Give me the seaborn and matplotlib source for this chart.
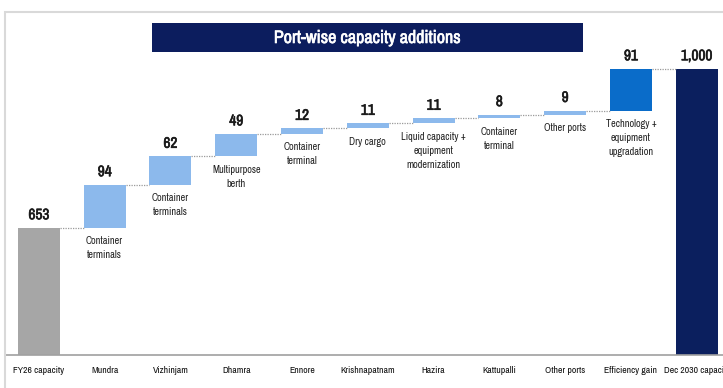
import matplotlib
matplotlib.use("Agg")
import matplotlib.pyplot as plt
import seaborn as sns
import numpy as np
import pandas as pd
from matplotlib.patches import Rectangle
from matplotlib import font_manager
import matplotlib.patheffects as pe

categories = ["FY26 capacity", "Mundra", "Vizhinjam", "Dhamra", "Ennore", "Krishnapatnam",
              "Hazira", "Kattupalli", "Other ports", "Efficiency gain", "Dec 2030 capacity"]
values = [653, 94, 62, 49, 12, 11, 11, 8, 9, 91, 1000]
value_labels = ["653", "94", "62", "49", "12", "11", "11", "8", "9", "91", "1,000"]
notes = ["", "Container\nterminals", "Container\nterminals", "Multipurpose\nberth",
         "Container\nterminal", "Dry cargo", "Liquid capacity +\nequipment\nmodernization",
         "Container\nterminal", "Other ports", "Technology +\nequipment\nupgradation", ""]
kinds = ["total", "add", "add", "add", "add", "add", "add", "add", "add", "eff", "total_end"]
title = "Port-wise capacity additions"

color_map = {"total": "#a6a6a6", "add": "#8cb9ec", "eff": "#0a6cc9", "total_end": "#0b1f5e"}

# waterfall bottoms / tops
bottoms = []
tops = []
running = 0
for v, k in zip(values, kinds):
    if k in ("total", "total_end"):
        bottoms.append(0)
        tops.append(v)
        running = v
    else:
        bottoms.append(running)
        running += v
        tops.append(running)

df = pd.DataFrame({"cat": categories, "height": values, "bottom": bottoms})

sns.set_theme(style="white")

entries = font_manager.fontManager.ttflist
names = sorted({f.name for f in entries})
narrow = [n for n in names if "Narrow" in n or "Condensed" in n]
pref = [n for n in narrow if n.startswith("Liberation")] + narrow
fam = pref[0] if pref else "Liberation Sans"
scale = 1.0 if pref else 0.86
has_bold = any(f.name == fam and (f.weight in ("bold", 700) or (isinstance(f.weight, int) and f.weight >= 600))
               for f in entries)
plt.rcParams["font.family"] = [fam, "Liberation Sans", "DejaVu Sans"]

bold_kw = {"fontweight": "bold"}
if not has_bold:
    bold_kw = {"path_effects": [pe.withStroke(linewidth=0.45, foreground="#1a1a1a")]}

W, H = 723, 388
fig = plt.figure(figsize=(W / 100, H / 100), dpi=100)
fig.patch.set_facecolor("white")

# outer frame
fig.patches.append(Rectangle((5 / W, -0.05), 1.2, (388 - 12) / H + 0.05, transform=fig.transFigure,
                             fill=False, edgecolor="#d9d9d9", linewidth=1.5, zorder=0))

ax = fig.add_axes([6 / W, 33 / H, 717 / W, 343 / H])
bw = 0.64
sns.barplot(data=df, x="cat", y="height", order=categories, color="#8cb9ec",
            bottom=df["bottom"].to_numpy(), width=bw, ax=ax, saturation=1, linewidth=0,
            errorbar=None)
for patch, k in zip(ax.patches, kinds):
    patch.set_facecolor(color_map[k])

ax.set_ylim(375.5, 1124)
ax.set_xlim(-0.5, 10.4)

# connectors
for i in range(len(values) - 1):
    y = tops[i]
    ax.plot([i + bw / 2, i + 1 - bw / 2], [y, y], color="#9a9a9a", linestyle=(0, (1, 1)),
            linewidth=0.9, zorder=3)

# value labels and notes
for i, (t, b, lab, note) in enumerate(zip(tops, bottoms, value_labels, notes)):
    ax.annotate(lab, (i, t), xytext=(0, 4), textcoords="offset points", ha="center", va="bottom",
                fontsize=11 * scale, color="#1a1a1a", **bold_kw)
    if note:
        ax.annotate(note, (i, b), xytext=(0, -6), textcoords="offset points", ha="center", va="top",
                    fontsize=7.4 * scale, color="#222222", linespacing=1.5)

ax.set_xlabel("")
ax.set_ylabel("")
ax.set_yticks([])
ax.tick_params(axis="x", length=0, labelsize=7.0 * scale, pad=8, colors="#111111")
for s in ["top", "right", "left"]:
    ax.spines[s].set_visible(False)
ax.spines["bottom"].set_color("#a0a0a0")
ax.spines["bottom"].set_linewidth(1.2)
ax.patch.set_alpha(0)

# title box
fig.patches.append(Rectangle((152 / W, 1 - 52 / H), (583 - 152) / W, 29 / H, transform=fig.transFigure,
                             facecolor="#0c1d5e", edgecolor="none", zorder=5))
tkw = {"fontweight": "bold"} if has_bold else {"path_effects": [pe.withStroke(linewidth=0.45, foreground="white")]}
fig.text((152 + 583) / 2 / W, 1 - 38 / H, title, ha="center", va="center", color="white",
         fontsize=13 * scale, zorder=6, **tkw)

fig.savefig("out.png", dpi=100)
